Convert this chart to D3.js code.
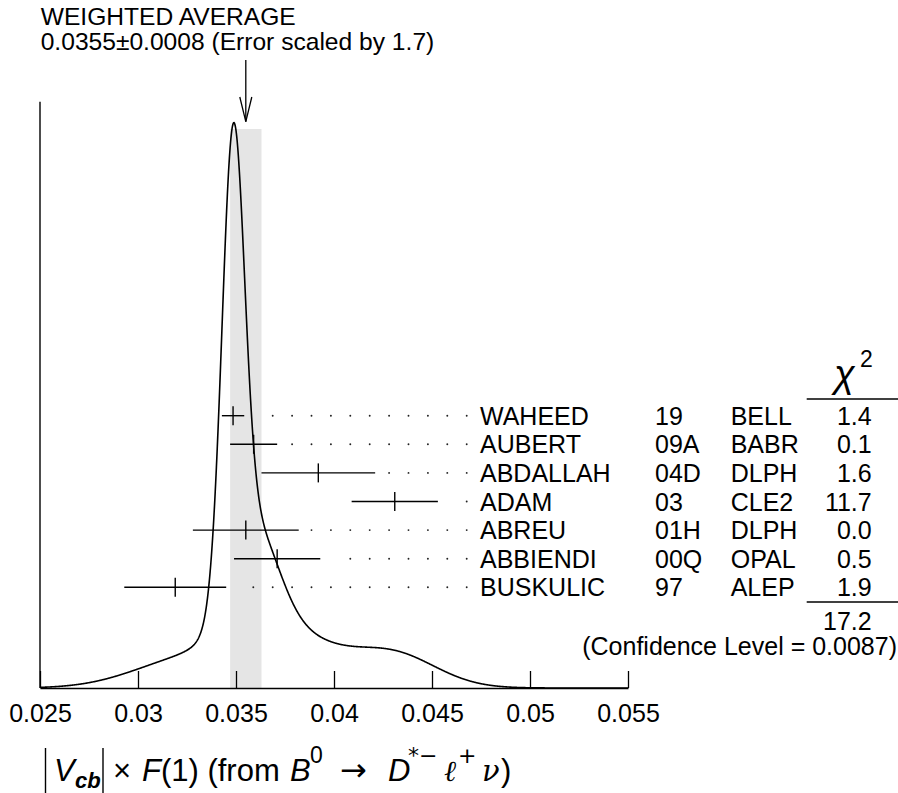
<!DOCTYPE html>
<html>
<head>
<meta charset="utf-8">
<script src="https://cdn.jsdelivr.net/npm/d3@7"></script>
<style>
  html, body { margin: 0; padding: 0; background: #fff; }
  svg { display: block; }
  text { font-family: "Liberation Sans", Arial, Helvetica, sans-serif; fill: #000; }
</style>
</head>
<body>
<svg width="898" height="793"></svg>
<script>
var names   = ["WAHEED", "AUBERT", "ABDALLAH", "ADAM", "ABREU", "ABBIENDI", "BUSKULIC"];
var refs    = ["19", "09A", "04D", "03", "01H", "00Q", "97"];
var exps    = ["BELL", "BABR", "DLPH", "CLE2", "DLPH", "OPAL", "ALEP"];
var values  = [0.03485, 0.0359, 0.0392, 0.0431, 0.0355, 0.0371, 0.0319];
var errors  = [0.00057, 0.0012, 0.0029, 0.0022, 0.0027, 0.0022, 0.0026];
var chi2    = ["1.4", "0.1", "1.6", "11.7", "0.0", "0.5", "1.9"];
var chi2Sum = "17.2";
var confLevel = "0.0087";
var average = 0.0355, averageErr = 0.0008;
var tickValues = [0.025, 0.03, 0.035, 0.04, 0.045, 0.05, 0.055];

var svg = d3.select("svg");

var x = d3.scaleLinear().domain([0.025, 0.055]).range([40, 628]);
var row = d3.scaleLinear().domain([0, names.length - 1]).range([415.7, 587.3]);
var base = 688;

// ideogram: each measurement a gaussian with area ~ 1/sigma
function ideogram(v) {
    return d3.sum(values, function(m, i) {
        var s = errors[i];
        return Math.exp(-0.5 * Math.pow((v - m) / s, 2)) / (s * s);
    });
}
var grid = d3.range(0.025, 0.0550001, 0.00002);
var curve = grid.map(function(v) { return { v: v, d: ideogram(v) }; });
var y = d3.scaleLinear().domain([0, d3.max(curve, function(p) { return p.d; })]).range([base, 122.7]);

// shaded band of weighted average
svg.append("rect")
    .attr("x", x(average - averageErr))
    .attr("y", 129)
    .attr("width", x(average + averageErr) - x(average - averageErr))
    .attr("height", base - 129)
    .attr("fill", "#e5e5e5");

// axes
var xAxis = d3.axisBottom(x)
    .tickValues(tickValues)
    .tickFormat(function(d) { return String(d); })
    .tickSizeInner(-17)
    .tickSizeOuter(0)
    .tickPadding(16);

var gx = svg.append("g").attr("transform", "translate(0," + base + ")").call(xAxis);
gx.select(".domain").attr("stroke", "#000").attr("stroke-width", 1.4);
gx.selectAll(".tick line").attr("stroke", "#000").attr("stroke-width", 1.3);
gx.selectAll(".tick text")
    .attr("font-family", "'Liberation Sans', Arial, sans-serif")
    .attr("font-size", 25)
    .attr("fill", "#000");

svg.append("line")
    .attr("x1", x(0.025)).attr("x2", x(0.025))
    .attr("y1", 101.7).attr("y2", base)
    .attr("stroke", "#000").attr("stroke-width", 1.4);

// ideogram curve
svg.append("path")
    .datum(curve)
    .attr("fill", "none")
    .attr("stroke", "#000")
    .attr("stroke-width", 1.6)
    .attr("d", d3.line()
        .x(function(p) { return x(p.v); })
        .y(function(p) { return y(p.d); }));

// dotted leaders
var dotEnd = 466.7, dotStep = 19.4;
names.forEach(function(n, i) {
    var barEnd = x(values[i] + errors[i]);
    var pts = [];
    for (var px = dotEnd; px > barEnd + 11; px -= dotStep) pts.push(px);
    svg.append("g").selectAll("circle")
        .data(pts)
        .enter().append("circle")
        .attr("cx", function(d) { return d; })
        .attr("cy", row(i))
        .attr("r", 0.95)
        .attr("fill", "#222");
});

// error bars
var bars = svg.append("g")
    .selectAll("g")
    .data(values)
    .enter().append("g");

bars.append("line")
    .attr("x1", function(d, i) { return x(d - errors[i]); })
    .attr("x2", function(d, i) { return x(d + errors[i]); })
    .attr("y1", function(d, i) { return row(i); })
    .attr("y2", function(d, i) { return row(i); })
    .attr("stroke", "#000").attr("stroke-width", 1.4);

bars.append("line")
    .attr("x1", function(d) { return x(d); })
    .attr("x2", function(d) { return x(d); })
    .attr("y1", function(d, i) { return row(i) - 9.5; })
    .attr("y2", function(d, i) { return row(i) + 9.5; })
    .attr("stroke", "#000").attr("stroke-width", 1.4);

// table of measurements
var fs = 25;
function column(arr, xpos, anchor) {
    svg.append("g").selectAll("text")
        .data(arr)
        .enter().append("text")
        .attr("x", xpos)
        .attr("y", function(d, i) { return row(i) + 9; })
        .attr("font-size", fs)
        .attr("text-anchor", anchor || "start")
        .text(function(d) { return d; });
}
column(names, 480);
column(refs, 655);
column(exps, 730.7);
column(chi2, 871.7, "end");

// chi square header and total
svg.append("text")
    .attr("x", 834).attr("y", 387)
    .attr("font-family", "'DejaVu Serif', serif")
    .attr("font-style", "italic")
    .attr("font-size", 38)
    .text("χ");
svg.append("text")
    .attr("x", 860).attr("y", 366.7)
    .attr("font-size", 23)
    .text("2");
svg.append("line")
    .attr("x1", 806.7).attr("x2", 898).attr("y1", 399).attr("y2", 399)
    .attr("stroke", "#000").attr("stroke-width", 1.3);
svg.append("line")
    .attr("x1", 806.7).attr("x2", 898).attr("y1", 602).attr("y2", 602)
    .attr("stroke", "#000").attr("stroke-width", 1.3);
svg.append("text")
    .attr("x", 871.7).attr("y", 629.5)
    .attr("font-size", fs).attr("text-anchor", "end")
    .text(chi2Sum);
svg.append("text")
    .attr("x", 897).attr("y", 655)
    .attr("font-size", fs).attr("text-anchor", "end")
    .text("(Confidence Level = " + confLevel + ")");

// title and arrow
svg.append("text").attr("x", 40.7).attr("y", 25).attr("font-size", 24.6).text("WEIGHTED AVERAGE");
svg.append("text").attr("x", 40.7).attr("y", 50).attr("font-size", 24.6)
    .text(average.toFixed(4) + "±" + averageErr.toFixed(4) + " (Error scaled by 1.7)");

var ax = x(average);
svg.append("line")
    .attr("x1", ax).attr("x2", ax).attr("y1", 60).attr("y2", 121.7)
    .attr("stroke", "#000").attr("stroke-width", 1.3);
svg.append("path")
    .attr("d", "M" + (ax - 6) + ",97L" + ax + ",121.7L" + (ax + 6) + ",97")
    .attr("fill", "none").attr("stroke", "#000").attr("stroke-width", 1.3);

// x axis title
var mf = "Lato, 'DejaVu Sans', sans-serif";
var sf = "'DejaVu Sans', sans-serif";
var ms = "'DejaVu Serif', serif";
var by = 781, sy = 763;

[45.5, 103].forEach(function(bx) {
    svg.append("line")
        .attr("x1", bx).attr("x2", bx).attr("y1", 748).attr("y2", 793)
        .attr("stroke", "#000").attr("stroke-width", 1.4);
});

var t = svg.append("text").attr("font-family", mf).attr("font-size", 31);
function piece(txt, px, opts) {
    opts = opts || {};
    var s = t.append("tspan")
        .attr("y", opts.sup ? sy : (opts.sub ? by + 7 : by))
        .text(txt);
    if (px != null) s.attr("x", px);
    if (opts.italic) s.attr("font-style", "italic");
    if (opts.bold) s.attr("font-weight", "bold");
    if (opts.family) s.attr("font-family", opts.family);
    if (opts.size) s.attr("font-size", opts.size);
    else if (opts.sup || opts.sub) s.attr("font-size", 22);
}
piece("V", 54, { italic: true });
piece("cb", 75, { sub: true, italic: true, bold: true });
piece("×", 113);
piece("F", 142, { italic: true });
piece("(1) (from", null);
piece("B", 290, { italic: true });
piece("0", 310, { sup: true, size: 23 });
piece("→", 340, { family: sf, size: 32 });
piece("D", 388, { italic: true });
piece("*−", 408, { sup: true, family: sf });
piece("ℓ", 444, { italic: true, family: ms, size: 29 });
piece("+", 458, { sup: true, family: sf });
piece("ν", 482, { italic: true, family: ms, size: 29 });
piece(")", 501);
</script>
</body>
</html>
